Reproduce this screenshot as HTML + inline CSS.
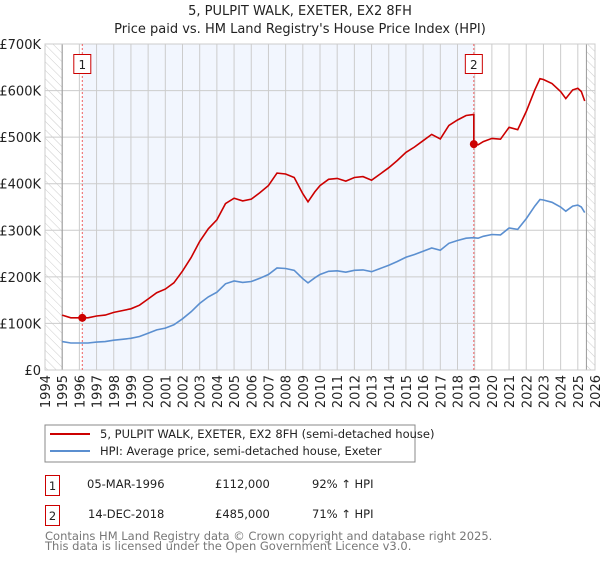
<!DOCTYPE html>
<html><head><meta charset="utf-8"><style>
body{margin:0;background:#fff;font-family:"Liberation Sans","DejaVu Sans",sans-serif}
svg text{font-family:"DejaVu Sans","Liberation Sans",sans-serif}
</style></head><body>
<svg id="c" width="600" height="560" xmlns="http://www.w3.org/2000/svg">
<defs><pattern id="hatch" width="6" height="6" patternUnits="userSpaceOnUse" patternTransform="rotate(-45)"><line x1="0" y1="0" x2="0" y2="6" stroke="#ccc" stroke-width="1"/></pattern></defs>
<text x="300" y="15" text-anchor="middle" font-size="13" fill="#222">5, PULPIT WALK, EXETER, EX2 8FH</text>
<text x="300" y="33" text-anchor="middle" font-size="13" fill="#222">Price paid vs. HM Land Registry's House Price Index (HPI)</text>
<g id="plot"></g>
<rect x="45" y="425" width="370" height="37" fill="#fff" stroke="#888"/>
<line x1="50" y1="434" x2="90" y2="434" stroke="#cc0000" stroke-width="2"/>
<text x="100" y="438" font-size="11.5" fill="#222">5, PULPIT WALK, EXETER, EX2 8FH (semi-detached house)</text>
<line x1="50" y1="451" x2="90" y2="451" stroke="#5b8fd0" stroke-width="2"/>
<text x="100" y="455" font-size="11.5" fill="#222">HPI: Average price, semi-detached house, Exeter</text>
<g>
<rect x="45.5" y="475.5" width="14" height="20" fill="#fff" stroke="#cc0000"/>
<text x="52.5" y="490" text-anchor="middle" font-size="11.5" fill="#222">1</text>
<text x="87" y="488" font-size="11.5" fill="#222">05-MAR-1996</text>
<text x="215" y="488" font-size="11.5" fill="#222">£112,000</text>
<text x="312" y="488" font-size="11.5" fill="#222">92% ↑ HPI</text></g>
<g>
<rect x="45.5" y="505.5" width="14" height="20" fill="#fff" stroke="#cc0000"/>
<text x="52.5" y="520" text-anchor="middle" font-size="11.5" fill="#222">2</text>
<text x="88" y="518" font-size="11.5" fill="#222">14-DEC-2018</text>
<text x="215" y="518" font-size="11.5" fill="#222">£485,000</text>
<text x="312" y="518" font-size="11.5" fill="#222">71% ↑ HPI</text></g>
<text x="45" y="540" font-size="11.5" fill="#777">Contains HM Land Registry data © Crown copyright and database right 2025.</text>
<text x="45" y="550" font-size="11.5" fill="#777">This data is licensed under the Open Government Licence v3.0.</text>
</svg>
<script>
const hpiYears=[1995,1995.5,1996,1996.5,1997,1997.5,1998,1998.5,1999,1999.5,2000,2000.5,2001,2001.5,2002,2002.5,2003,2003.5,2004,2004.5,2005,2005.5,2006,2006.5,2007,2007.5,2008,2008.5,2009,2009.3,2009.7,2010,2010.5,2011,2011.5,2012,2012.5,2013,2013.5,2014,2014.5,2015,2015.5,2016,2016.5,2017,2017.5,2018,2018.5,2018.9,2019.2,2019.5,2020,2020.5,2021,2021.5,2022,2022.5,2022.8,2023,2023.5,2024,2024.3,2024.7,2025,2025.2,2025.4];
const hpiValues=[61,58,58,58,60,61,64,66,68,72,79,86,90,97,110,125,143,157,167,185,191,188,190,197,205,219,218,214,196,187,198,205,212,213,210,214,215,211,218,225,233,242,248,255,262,257,272,278,283,284,283,287,291,290,305,302,325,352,366,365,360,350,341,352,354,350,338];
const saleYears=[1996.17,2018.95];
const salePrices=[112,485];
const yTicks=[0,100,200,300,400,500,600,700];
const yTickLabels=["£0","£100K","£200K","£300K","£400K","£500K","£600K","£700K"];
const xTicks=[1994,1995,1996,1997,1998,1999,2000,2001,2002,2003,2004,2005,2006,2007,2008,2009,2010,2011,2012,2013,2014,2015,2016,2017,2018,2019,2020,2021,2022,2023,2024,2025,2026];

const NS="http://www.w3.org/2000/svg";
const X0=45,X1=595,Y0=370,Y1=44;
const xs=y=>X0+(y-1994)/(2026-1994)*(X1-X0);
const ys=v=>Y0-v/700*(Y0-Y1);
const g=document.getElementById('plot');
function mk(t,a,p){const e=document.createElementNS(NS,t);for(const k in a)e.setAttribute(k,a[k]);(p||g).appendChild(e);return e;}
function hpiAt(t){for(let i=0;i<hpiYears.length-1;i++){if(t>=hpiYears[i]&&t<=hpiYears[i+1]){const f=(t-hpiYears[i])/(hpiYears[i+1]-hpiYears[i]);return hpiValues[i]+f*(hpiValues[i+1]-hpiValues[i]);}}return hpiValues[hpiValues.length-1];}

let e=mk('rect',{x:xs(saleYears[0]),y:Y1,width:xs(saleYears[1])-xs(saleYears[0]),height:Y0-Y1,fill:'#f2f6fe'});


e=mk('rect',{x:X0,y:Y1,width:xs(1995)-X0,height:Y0-Y1,fill:'url(#hatch)'});


e=mk('rect',{x:xs(2025.5),y:Y1,width:X1-xs(2025.5),height:Y0-Y1,fill:'url(#hatch)'});


yTicks.forEach((v,i)=>{
  const l=mk('line',{x1:X0,x2:X1,y1:ys(v),y2:ys(v),stroke:'#ccc'});
  
  
  const t=mk('text',{x:X0-4,y:ys(v)+5,'text-anchor':'end','font-size':'13',fill:'#222'});
  t.textContent=yTickLabels[i];
  
  
});
xTicks.forEach(y=>{
  const l=mk('line',{x1:xs(y),x2:xs(y),y1:Y1,y2:Y0,stroke:'#ccc'});
  
  
  const t=mk('text',{x:0,y:0,'text-anchor':'end','font-size':'13',fill:'#222',transform:`translate(${xs(y)+5},375) rotate(-90)`});
  t.textContent=y;
  
  
});
[xs(1995),xs(2025.5)].forEach(x=>{const l=mk('line',{x1:x,x2:x,y1:Y1,y2:Y0,stroke:'#999'});
  
  });
e=mk('rect',{x:X0,y:Y1,width:X1-X0,height:Y0-Y1,fill:'none',stroke:'#ccc'});


// sale markers
saleYears.forEach((sy,i)=>{
  const l=mk('line',{x1:xs(sy),x2:xs(sy),y1:Y1,y2:Y0,stroke:'#f06060','stroke-dasharray':'2,2'});
  
  
  const r=mk('rect',{x:xs(sy)-8.5,y:54.5,width:17,height:19,fill:'#fff',stroke:'#cc0000'});
  
  
  const t=mk('text',{x:xs(sy),y:69,'text-anchor':'middle','font-size':'12',fill:'#222'});
  t.textContent=String(i+1);
  
  
});
// HPI line
let d=hpiYears.map((y,i)=>(i?'L':'M')+xs(y).toFixed(1)+','+ys(hpiValues[i]).toFixed(1)).join('');
e=mk('path',{d:d,fill:'none',stroke:'#5b8fd0','stroke-width':'1.6'});


// property line: HPI indexed to sale prices
const r1=salePrices[0]/hpiAt(saleYears[0]), r2=salePrices[1]/hpiAt(saleYears[1]);
let pts=[];
hpiYears.forEach((y,i)=>{if(y<saleYears[1])pts.push([y,hpiValues[i]*r1]);});
pts.push([saleYears[1],hpiAt(saleYears[1])*r1]);
pts.push([saleYears[1],salePrices[1]]);
hpiYears.forEach((y,i)=>{if(y>saleYears[1])pts.push([y,hpiValues[i]*r2]);});
d=pts.map((p,i)=>(i?'L':'M')+xs(p[0]).toFixed(1)+','+ys(p[1]).toFixed(1)).join('');
e=mk('path',{d:d,fill:'none',stroke:'#cc0000','stroke-width':'1.6'});


saleYears.forEach((sy,i)=>{
  const c=mk('circle',{cx:xs(sy),cy:ys(salePrices[i]),r:4,fill:'#cc0000'});
  
  
});
</script>
</body></html>
